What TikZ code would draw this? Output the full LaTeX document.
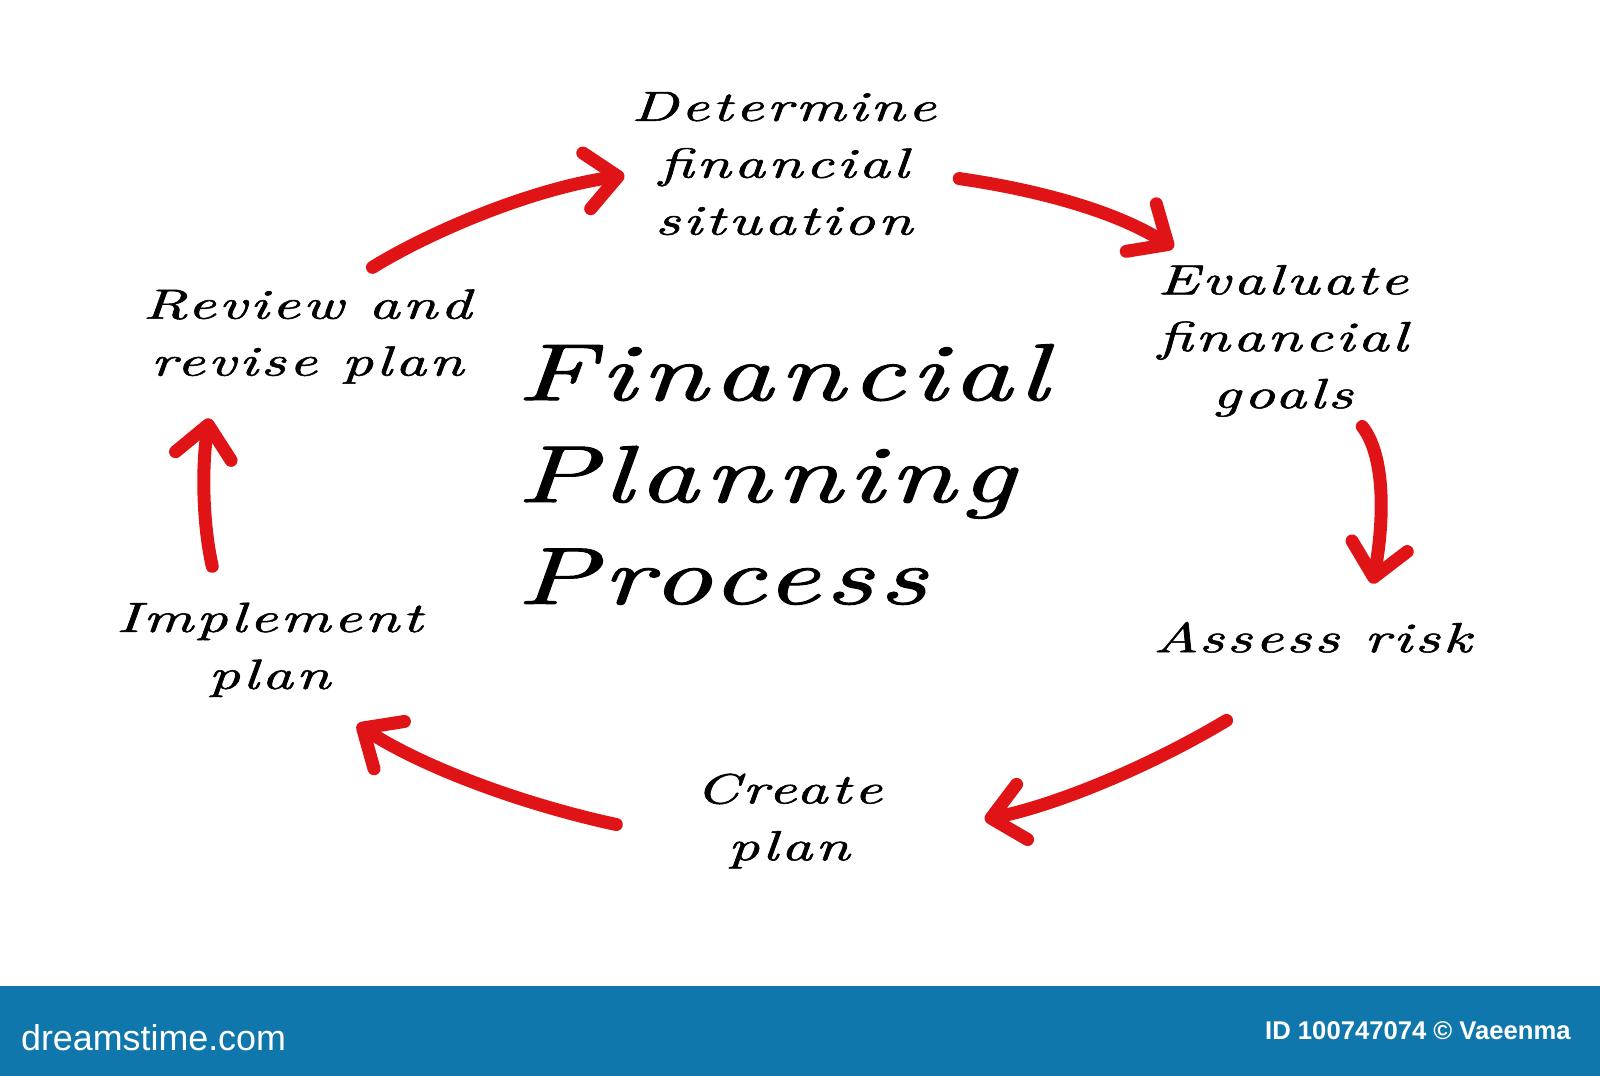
\documentclass[tikz,border=0pt]{standalone}
\usepackage{graphicx}
\usepackage{fontspec}
\usetikzlibrary{arrows.meta}
\newfontfamily\hand{lmroman10}[Extension=.otf, UprightFont=*-italic, LetterSpace=5, FakeBold=1.2]
\newfontfamily\wmfont{Liberation Sans}
\definecolor{brush}{RGB}{224,20,22}
\definecolor{bannerblue}{RGB}{16,119,173}
\newcommand\hw[2]{\scalebox{1.45}[1]{\begin{tabular}{@{}#1@{}}#2\end{tabular}}}
\tikzset{
  lbl/.style={inner sep=0pt, font=\hand\fontsize{12}{16.2}\selectfont},
  ttl/.style={inner sep=0pt, font=\hand\fontsize{23}{29}\selectfont},
  flow/.style={draw=brush, line width=3.7pt, line cap=round,
    -{Straight Barb[length=9pt,width=16pt,round]}},
  wm/.style={inner sep=0pt, text=white},
}
\begin{document}
\begin{tikzpicture}[x=0.010204cm,y=-0.010204cm]
\useasboundingbox (0,0) rectangle (1568,1054);
\fill[white] (0,0) rectangle (1568,1054);

% step labels
\node[lbl] (det) at (768,163) {\hw{c}{Determine\\financial\\situation}};
\node[lbl] (eval) at (1257,333) {\hw{c}{Evaluate\\financial\\goals}};
\node[lbl] (risk) at (1286,628) {\hw{c}{Assess risk}};
\node[lbl] (create) at (773,804) {\hw{c}{Create\\plan}};
\node[lbl] (impl) at (264,636) {\hw{c}{Implement\\plan}};
\node[lbl] (rev) at (301,329) {\hw{c}{Review and\\revise plan}};
\node[ttl, anchor=west] (title) at (506,472) {\hw{l}{Financial\\Planning\\Process}};

% arrow end points
\coordinate (a1s) at (365,262);  \coordinate (a1e) at (612,172);
\coordinate (a2s) at (940,175);  \coordinate (a2e) at (1150,243);
\coordinate (a3s) at (1335,418); \coordinate (a3e) at (1345,572);
\coordinate (a4s) at (1202,706); \coordinate (a4e) at (965,803);
\coordinate (a5s) at (604,808);  \coordinate (a5e) at (350,710);
\coordinate (a6s) at (208,555);  \coordinate (a6e) at (205,410);

\draw[flow] (a1s) .. controls (420,228) and (520,185) .. (a1e);
\draw[flow] (a2s) .. controls (1010,185) and (1090,205) .. (a2e);
\draw[flow] (a3s) .. controls (1360,450) and (1355,520) .. (a3e);
\draw[flow] (a4s) .. controls (1120,755) and (1030,790) .. (a4e);
\draw[flow] (a5s) .. controls (520,790) and (420,755) .. (a5e);
\draw[flow] (a6s) .. controls (198,510) and (198,455) .. (a6e);

% banner
\fill[bannerblue] (0,966) rectangle (1568,1054);
\node[wm, anchor=west, font=\wmfont\fontsize{10.2}{12}\selectfont] (logo) at (20,1017) {dreamstime.com};
\node[wm, anchor=east, font=\wmfont\bfseries\fontsize{7.3}{9}\selectfont] (credit) at (1540,1010) {ID 100747074 © Vaeenma};
\end{tikzpicture}
\end{document}
